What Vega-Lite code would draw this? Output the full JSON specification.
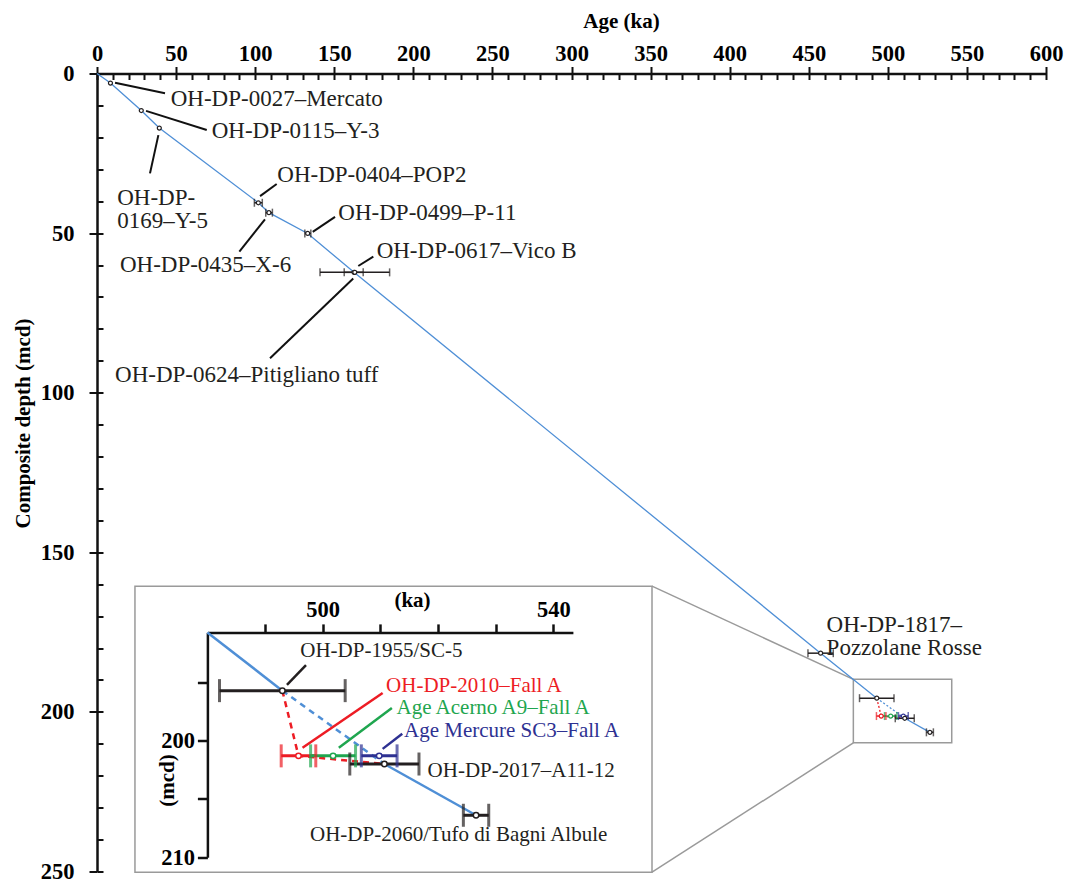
{
"$schema": "https://vega.github.io/schema/vega-lite/v6.json",
"width": 949, "height": 798,
"autosize": {"type": "none"},
"padding": {"left": 97, "top": 73.5, "right": 23, "bottom": 13.5},
"background": "white",
"config": {
  "view": {"stroke": null},
  "text": {"font": "Liberation Serif"},
  "axis": {"labelFont": "Liberation Serif", "titleFont": "Liberation Serif", "grid": false, "labelColor": "#000", "titleColor": "#000", "domainColor": "#111", "tickColor": "#111", "labelFlush": false, "labelOverlap": false}
},
"datasets": {
  "chron": [
    {"name": "OH-DP-0027", "src": "OH-DP", "age": 8.5, "depth": 3.0},
    {"name": "OH-DP-0115", "src": "OH-DP", "age": 28.0, "depth": 11.6},
    {"name": "OH-DP-0169", "src": "OH-DP", "age": 39.4, "depth": 17.1},
    {"name": "OH-DP-0404", "src": "OH-DP", "age": 102.0, "depth": 40.5, "lo": 99.5, "hi": 104.5},
    {"name": "OH-DP-0435", "src": "OH-DP", "age": 108.7, "depth": 43.6, "lo": 106.7, "hi": 110.9},
    {"name": "OH-DP-0499", "src": "OH-DP", "age": 133.2, "depth": 50.1, "lo": 131.4, "hi": 135.2},
    {"name": "OH-DP-0617", "src": "OH-DP", "age": 162.5, "depth": 62.3, "lo": 156.3, "hi": 168.3},
    {"name": "OH-DP-0624", "src": "OH-DP", "age": 163.0, "depth": 62.3, "lo": 141.0, "hi": 185.0},
    {"name": "OH-DP-1817", "src": "OH-DP", "age": 457.5, "depth": 181.6, "lo": 449.5, "hi": 465.5},
    {"name": "OH-DP-1955", "src": "OH-DP", "age": 493.0, "depth": 195.7, "lo": 482.1, "hi": 503.9},
    {"name": "OH-DP-2010", "src": "2010", "age": 495.8, "depth": 201.3, "lo": 492.8, "hi": 498.8},
    {"name": "Acerno A9", "src": "Acerno", "age": 501.8, "depth": 201.3, "lo": 497.9, "hi": 505.7},
    {"name": "Mercure SC3", "src": "Mercure", "age": 509.8, "depth": 201.3, "lo": 506.7, "hi": 512.9},
    {"name": "OH-DP-2017", "src": "OH-DP", "age": 510.7, "depth": 202.0, "lo": 504.7, "hi": 516.7},
    {"name": "OH-DP-2060", "src": "OH-DP", "age": 526.6, "depth": 206.4, "lo": 524.4, "hi": 528.8}
  ],
  "trend": [
    {"seg": "upper", "age": 0, "depth": 0},
    {"seg": "upper", "age": 8.5, "depth": 3.0},
    {"seg": "upper", "age": 28.0, "depth": 11.6},
    {"seg": "upper", "age": 39.4, "depth": 17.1},
    {"seg": "upper", "age": 102.0, "depth": 40.5},
    {"seg": "upper", "age": 108.7, "depth": 43.6},
    {"seg": "upper", "age": 133.2, "depth": 50.1},
    {"seg": "upper", "age": 162.5, "depth": 62.3},
    {"seg": "upper", "age": 457.5, "depth": 181.6},
    {"seg": "upper", "age": 493.0, "depth": 195.7},
    {"seg": "entry", "age": 480.0, "depth": 190.7},
    {"seg": "entry", "age": 493.0, "depth": 195.7},
    {"seg": "gap", "age": 493.0, "depth": 195.7},
    {"seg": "gap", "age": 510.7, "depth": 202.0},
    {"seg": "lower", "age": 510.7, "depth": 202.0},
    {"seg": "lower", "age": 526.6, "depth": 206.4},
    {"seg": "red", "age": 493.0, "depth": 195.7},
    {"seg": "red", "age": 495.8, "depth": 201.3},
    {"seg": "red", "age": 510.7, "depth": 202.0}
  ],
  "frames": [
    {"kind": "zoom", "a1": 478.2, "a2": 540.4, "d1": 189.8, "d2": 209.7},
    {"kind": "inset", "a1": 24.0, "a2": 350.9, "d1": 160.6, "d2": 250.2},
    {"kind": "link", "a1": 478.2, "d1": 189.8, "a2": 350.9, "d2": 160.6},
    {"kind": "link", "a1": 478.2, "d1": 209.7, "a2": 350.9, "d2": 250.2}
  ],
  "annMain": [
    {"label": "OH-DP-0027–Mercato", "age": 46.6, "depth": 8.1, "a1": 11.4, "d1": 2.9, "a2": 43.0, "d2": 6.2},
    {"label": "OH-DP-0115–Y-3", "age": 72.5, "depth": 17.9, "a1": 31.0, "d1": 11.7, "a2": 69.4, "d2": 17.7},
    {"label": ["OH-DP-", "0169–Y-5"], "age": 12.8, "depth": 39.1, "a1": 38.8, "d1": 19.3, "a2": 33.5, "d2": 31.3},
    {"label": "OH-DP-0404–POP2", "age": 114.0, "depth": 31.8, "a1": 103.1, "d1": 38.4, "a2": 113.6, "d2": 34.6},
    {"label": "OH-DP-0435–X-6", "age": 14.5, "depth": 60.0, "a1": 106.2, "d1": 45.7, "a2": 90.0, "d2": 55.8},
    {"label": "OH-DP-0499–P-11", "age": 152.6, "depth": 43.8, "a1": 136.4, "d1": 49.6, "a2": 150.5, "d2": 44.9},
    {"label": "OH-DP-0617–Vico B", "age": 176.8, "depth": 55.5, "a1": 165.2, "d1": 60.3, "a2": 174.7, "d2": 57.4},
    {"label": "OH-DP-0624–Pitigliano tuff", "age": 11.4, "depth": 94.5, "a1": 162.0, "d1": 64.2, "a2": 109.4, "d2": 89.2},
    {"label": ["OH-DP-1817–", "Pozzolane Rosse"], "age": 461.3, "depth": 172.9}
  ],
  "annInset": [
    {"label": "OH-DP-1955/SC-5", "src": "OH-DP", "age": 496.1, "depth": 192.3, "a1": 493.8, "d1": 195.2, "a2": 497.1, "d2": 193.5},
    {"label": "OH-DP-2010–Fall A", "src": "2010", "age": 511.0, "depth": 195.3, "a1": 496.5, "d1": 200.6, "a2": 510.4, "d2": 195.9},
    {"label": "Age Acerno A9–Fall A", "src": "Acerno", "age": 512.8, "depth": 197.2, "a1": 502.8, "d1": 200.6, "a2": 512.0, "d2": 197.2},
    {"label": "Age Mercure SC3–Fall A", "src": "Mercure", "age": 514.1, "depth": 199.2, "a1": 510.4, "d1": 200.7, "a2": 513.8, "d2": 199.4},
    {"label": "OH-DP-2017–A11-12", "src": "OH-DP", "age": 518.2, "depth": 202.6},
    {"label": "OH-DP-2060/Tufo di Bagni Albule", "src": "OH-DP", "age": 497.8, "depth": 208.1}
  ]
},
"layer": [
  {
    "layer": [
      {
        "data": {"name": "frames"},
        "transform": [{"filter": "datum.kind != 'link'"}],
        "mark": {"type": "rect", "fill": "transparent", "stroke": "#9a9a9a", "strokeWidth": 1.5},
        "encoding": {
          "x": {"field": "a1", "type": "quantitative", "scale": {"domain": [0, 600], "nice": false, "zero": false},
                "axis": {"orient": "top", "values": [0, 50, 100, 150, 200, 250, 300, 350, 400, 450, 500, 550, 600], "tickSize": 7, "tickWidth": 2, "domainWidth": 2.5, "labelFontSize": 22.5, "labelFontWeight": "bold", "labelPadding": 1, "title": "Age (ka)", "titleFontSize": 21, "titleFontWeight": "bold", "titleX": 524, "titleY": -52.5, "titleBaseline": "middle", "titleAlign": "center"}},
          "x2": {"field": "a2"},
          "y": {"field": "d1", "type": "quantitative", "scale": {"domain": [0, 250], "nice": false, "zero": false, "reverse": true},
                "axis": {"orient": "left", "values": [0, 50, 100, 150, 200, 250], "tickSize": 8, "tickWidth": 2, "domainWidth": 2.5, "labelFontSize": 22.5, "labelFontWeight": "bold", "labelPadding": 15, "title": "Composite depth (mcd)", "titleFontSize": 21, "titleFontWeight": "bold", "titleX": -73.7, "titleY": 349.5, "titleAngle": 270, "titleBaseline": "middle", "titleAlign": "center"}},
          "y2": {"field": "d2"}
        }
      },
      {
        "data": {"name": "frames"},
        "transform": [{"filter": "datum.kind == 'link'"}],
        "mark": {"type": "rule", "stroke": "#9a9a9a", "strokeWidth": 1.5},
        "encoding": {
          "x": {"field": "a1", "type": "quantitative", "scale": {"domain": [0, 600], "nice": false, "zero": false}},
          "x2": {"field": "a2"},
          "y": {"field": "d1", "type": "quantitative", "scale": {"domain": [0, 250], "nice": false, "zero": false, "reverse": true}},
          "y2": {"field": "d2"}
        }
      },
      {
        "data": {"name": "trend"},
        "transform": [{"filter": "datum.seg == 'upper' || datum.seg == 'lower'"}],
        "mark": {"type": "line", "stroke": "#4f8fd6", "strokeWidth": 1.3},
        "encoding": {
          "x": {"field": "age", "type": "quantitative", "scale": {"domain": [0, 600], "nice": false, "zero": false}},
          "y": {"field": "depth", "type": "quantitative", "scale": {"domain": [0, 250], "nice": false, "zero": false, "reverse": true}},
          "detail": {"field": "seg"}
        }
      },
      {
        "data": {"name": "trend"},
        "transform": [{"filter": "datum.seg == 'gap'"}],
        "mark": {"type": "line", "stroke": "#4f8fd6", "strokeWidth": 1.3, "strokeDash": [2, 2]},
        "encoding": {
          "x": {"field": "age", "type": "quantitative", "scale": {"domain": [0, 600], "nice": false, "zero": false}},
          "y": {"field": "depth", "type": "quantitative", "scale": {"domain": [0, 250], "nice": false, "zero": false, "reverse": true}}
        }
      },
      {
        "data": {"name": "trend"},
        "transform": [{"filter": "datum.seg == 'red'"}],
        "mark": {"type": "line", "stroke": "#ed1c24", "strokeWidth": 1.3, "strokeDash": [2, 2]},
        "encoding": {
          "x": {"field": "age", "type": "quantitative", "scale": {"domain": [0, 600], "nice": false, "zero": false}},
          "y": {"field": "depth", "type": "quantitative", "scale": {"domain": [0, 250], "nice": false, "zero": false, "reverse": true}}
        }
      },
      {
        "data": {"name": "chron"},
        "transform": [{"filter": "isValid(datum.lo)"}],
        "mark": {"type": "rule", "strokeWidth": 1.5},
        "encoding": {
          "x": {"field": "lo", "type": "quantitative", "scale": {"domain": [0, 600], "nice": false, "zero": false}},
          "x2": {"field": "hi"},
          "y": {"field": "depth", "type": "quantitative", "scale": {"domain": [0, 250], "nice": false, "zero": false, "reverse": true}},
          "color": {"field": "src", "type": "nominal", "scale": {"domain": ["OH-DP", "2010", "Acerno", "Mercure"], "range": ["#231f20", "#ed1c24", "#1fa64f", "#2e3192"]}, "legend": null}
        }
      },
      {
        "data": {"name": "chron"},
        "transform": [{"filter": "isValid(datum.lo)"}],
        "mark": {"type": "tick", "orient": "vertical", "size": 8, "thickness": 1.5},
        "encoding": {
          "x": {"field": "lo", "type": "quantitative", "scale": {"domain": [0, 600], "nice": false, "zero": false}},
          "y": {"field": "depth", "type": "quantitative", "scale": {"domain": [0, 250], "nice": false, "zero": false, "reverse": true}},
          "color": {"field": "src", "type": "nominal", "legend": null}
        }
      },
      {
        "data": {"name": "chron"},
        "transform": [{"filter": "isValid(datum.lo)"}],
        "mark": {"type": "tick", "orient": "vertical", "size": 8, "thickness": 1.5},
        "encoding": {
          "x": {"field": "hi", "type": "quantitative", "scale": {"domain": [0, 600], "nice": false, "zero": false}},
          "y": {"field": "depth", "type": "quantitative", "scale": {"domain": [0, 250], "nice": false, "zero": false, "reverse": true}},
          "color": {"field": "src", "type": "nominal", "legend": null}
        }
      },
      {
        "data": {"name": "chron"},
        "mark": {"type": "point", "shape": "circle", "size": 16, "fill": "white", "strokeWidth": 1.2, "opacity": 1},
        "encoding": {
          "x": {"field": "age", "type": "quantitative", "scale": {"domain": [0, 600], "nice": false, "zero": false}},
          "y": {"field": "depth", "type": "quantitative", "scale": {"domain": [0, 250], "nice": false, "zero": false, "reverse": true}},
          "stroke": {"field": "src", "type": "nominal", "scale": {"domain": ["OH-DP", "2010", "Acerno", "Mercure"], "range": ["#231f20", "#ed1c24", "#1fa64f", "#2e3192"]}, "legend": null}
        }
      },
      {
        "data": {"name": "annMain"},
        "transform": [{"filter": "isValid(datum.a1)"}],
        "mark": {"type": "rule", "stroke": "#111", "strokeWidth": 2},
        "encoding": {
          "x": {"field": "a1", "type": "quantitative", "scale": {"domain": [0, 600], "nice": false, "zero": false}},
          "x2": {"field": "a2"},
          "y": {"field": "d1", "type": "quantitative", "scale": {"domain": [0, 250], "nice": false, "zero": false, "reverse": true}},
          "y2": {"field": "d2"}
        }
      },
      {
        "data": {"name": "annMain"},
        "mark": {"type": "text", "align": "left", "baseline": "middle", "fontSize": 23, "lineHeight": 23, "fill": "#231f20"},
        "encoding": {
          "x": {"field": "age", "type": "quantitative", "scale": {"domain": [0, 600], "nice": false, "zero": false}},
          "y": {"field": "depth", "type": "quantitative", "scale": {"domain": [0, 250], "nice": false, "zero": false, "reverse": true}},
          "text": {"field": "label"}
        }
      }
    ]
  },
  {
    "data": {"name": "chron"},
    "mark": {"type": "point", "opacity": 0},
    "encoding": {
      "x": {"field": "age", "type": "quantitative", "scale": {"domain": [0, 600], "nice": false, "zero": false},
            "axis": {"orient": "top", "values": [0,10,20,30,40,50,60,70,80,90,100,110,120,130,140,150,160,170,180,190,200,210,220,230,240,250,260,270,280,290,300,310,320,330,340,350,360,370,380,390,400,410,420,430,440,450,460,470,480,490,500,510,520,530,540,550,560,570,580,590,600], "tickSize": -6, "tickWidth": 2, "labels": false, "domain": false, "title": null}},
      "y": {"field": "depth", "type": "quantitative", "scale": {"domain": [0, 250], "nice": false, "zero": false, "reverse": true},
            "axis": {"orient": "left", "values": [0,10,20,30,40,50,60,70,80,90,100,110,120,130,140,150,160,170,180,190,200,210,220,230,240,250], "tickSize": -6, "tickWidth": 2, "labels": false, "domain": false, "title": null}}
    }
  },
  {
    "layer": [
      {
        "data": {"name": "trend"},
        "transform": [{"filter": "datum.seg == 'entry' || datum.seg == 'lower'"}],
        "mark": {"type": "line", "stroke": "#4f8fd6", "strokeWidth": 2.5},
        "encoding": {
          "x": {"field": "age", "type": "quantitative", "scale": {"domain": [480, 543.4], "range": [110.4, 475.9], "nice": false, "zero": false},
                "axis": {"orient": "top", "offset": -558.9, "values": [490, 500, 510, 520, 530, 540], "labelExpr": "datum.value == 500 || datum.value == 540 ? datum.label : ''", "tickSize": 8.5, "tickWidth": 2.5, "domainWidth": 2.5, "labelFontSize": 22.5, "labelFontWeight": "bold", "labelPadding": 2, "title": "(ka)", "titleFontSize": 21, "titleFontWeight": "bold", "titleX": 315, "titleY": -32.4, "titleBaseline": "middle", "titleAlign": "center"}},
          "y": {"field": "depth", "type": "quantitative", "scale": {"domain": [190.7, 210], "range": [558.9, 783.7], "nice": false, "zero": false},
                "axis": {"orient": "left", "offset": -110.4, "values": [195, 200, 205, 210], "labelExpr": "datum.value == 200 || datum.value == 210 ? datum.label : ''", "tickSize": 10, "tickWidth": 2.5, "domainWidth": 2.5, "labelFontSize": 22.5, "labelFontWeight": "bold", "labelPadding": 3, "title": "(mcd)", "titleFontSize": 21, "titleFontWeight": "bold", "titleX": -40.4, "titleY": 706.5, "titleAngle": 270, "titleBaseline": "middle", "titleAlign": "center"}},
          "detail": {"field": "seg"}
        }
      },
      {
        "data": {"name": "trend"},
        "transform": [{"filter": "datum.seg == 'gap'"}],
        "mark": {"type": "line", "stroke": "#4f8fd6", "strokeWidth": 2.5, "strokeDash": [6, 5]},
        "encoding": {
          "x": {"field": "age", "type": "quantitative", "scale": {"domain": [480, 543.4], "range": [110.4, 475.9], "nice": false, "zero": false}},
          "y": {"field": "depth", "type": "quantitative", "scale": {"domain": [190.7, 210], "range": [558.9, 783.7], "nice": false, "zero": false}}
        }
      },
      {
        "data": {"name": "trend"},
        "transform": [{"filter": "datum.seg == 'red'"}],
        "mark": {"type": "line", "stroke": "#ed1c24", "strokeWidth": 2.5, "strokeDash": [6, 5]},
        "encoding": {
          "x": {"field": "age", "type": "quantitative", "scale": {"domain": [480, 543.4], "range": [110.4, 475.9], "nice": false, "zero": false}},
          "y": {"field": "depth", "type": "quantitative", "scale": {"domain": [190.7, 210], "range": [558.9, 783.7], "nice": false, "zero": false}}
        }
      },
      {
        "data": {"name": "chron"},
        "transform": [{"filter": "datum.age >= 480 && isValid(datum.lo)"}],
        "mark": {"type": "rule", "strokeWidth": 3},
        "encoding": {
          "x": {"field": "lo", "type": "quantitative", "scale": {"domain": [480, 543.4], "range": [110.4, 475.9], "nice": false, "zero": false}},
          "x2": {"field": "hi"},
          "y": {"field": "depth", "type": "quantitative", "scale": {"domain": [190.7, 210], "range": [558.9, 783.7], "nice": false, "zero": false}},
          "color": {"field": "src", "type": "nominal", "legend": null}
        }
      },
      {
        "data": {"name": "chron"},
        "transform": [{"filter": "datum.age >= 480 && isValid(datum.lo)"}],
        "mark": {"type": "tick", "orient": "vertical", "size": 23, "thickness": 3},
        "encoding": {
          "x": {"field": "lo", "type": "quantitative", "scale": {"domain": [480, 543.4], "range": [110.4, 475.9], "nice": false, "zero": false}},
          "y": {"field": "depth", "type": "quantitative", "scale": {"domain": [190.7, 210], "range": [558.9, 783.7], "nice": false, "zero": false}},
          "color": {"field": "src", "type": "nominal", "legend": null}
        }
      },
      {
        "data": {"name": "chron"},
        "transform": [{"filter": "datum.age >= 480 && isValid(datum.lo)"}],
        "mark": {"type": "tick", "orient": "vertical", "size": 23, "thickness": 3},
        "encoding": {
          "x": {"field": "hi", "type": "quantitative", "scale": {"domain": [480, 543.4], "range": [110.4, 475.9], "nice": false, "zero": false}},
          "y": {"field": "depth", "type": "quantitative", "scale": {"domain": [190.7, 210], "range": [558.9, 783.7], "nice": false, "zero": false}},
          "color": {"field": "src", "type": "nominal", "legend": null}
        }
      },
      {
        "data": {"name": "chron"},
        "transform": [{"filter": "datum.age >= 480"}],
        "mark": {"type": "point", "shape": "circle", "size": 30, "fill": "white", "strokeWidth": 1.5, "opacity": 1},
        "encoding": {
          "x": {"field": "age", "type": "quantitative", "scale": {"domain": [480, 543.4], "range": [110.4, 475.9], "nice": false, "zero": false}},
          "y": {"field": "depth", "type": "quantitative", "scale": {"domain": [190.7, 210], "range": [558.9, 783.7], "nice": false, "zero": false}},
          "stroke": {"field": "src", "type": "nominal", "legend": null}
        }
      },
      {
        "data": {"name": "annInset"},
        "transform": [{"filter": "isValid(datum.a1)"}],
        "mark": {"type": "rule", "strokeWidth": 2.5},
        "encoding": {
          "x": {"field": "a1", "type": "quantitative", "scale": {"domain": [480, 543.4], "range": [110.4, 475.9], "nice": false, "zero": false}},
          "x2": {"field": "a2"},
          "y": {"field": "d1", "type": "quantitative", "scale": {"domain": [190.7, 210], "range": [558.9, 783.7], "nice": false, "zero": false}},
          "y2": {"field": "d2"},
          "color": {"field": "src", "type": "nominal", "legend": null}
        }
      },
      {
        "data": {"name": "annInset"},
        "mark": {"type": "text", "align": "left", "baseline": "middle", "fontSize": 21},
        "encoding": {
          "x": {"field": "age", "type": "quantitative", "scale": {"domain": [480, 543.4], "range": [110.4, 475.9], "nice": false, "zero": false}},
          "y": {"field": "depth", "type": "quantitative", "scale": {"domain": [190.7, 210], "range": [558.9, 783.7], "nice": false, "zero": false}},
          "text": {"field": "label"},
          "color": {"field": "src", "type": "nominal", "legend": null}
        }
      }
    ]
  }
],
"resolve": {"scale": {"x": "independent", "y": "independent"}}
}
